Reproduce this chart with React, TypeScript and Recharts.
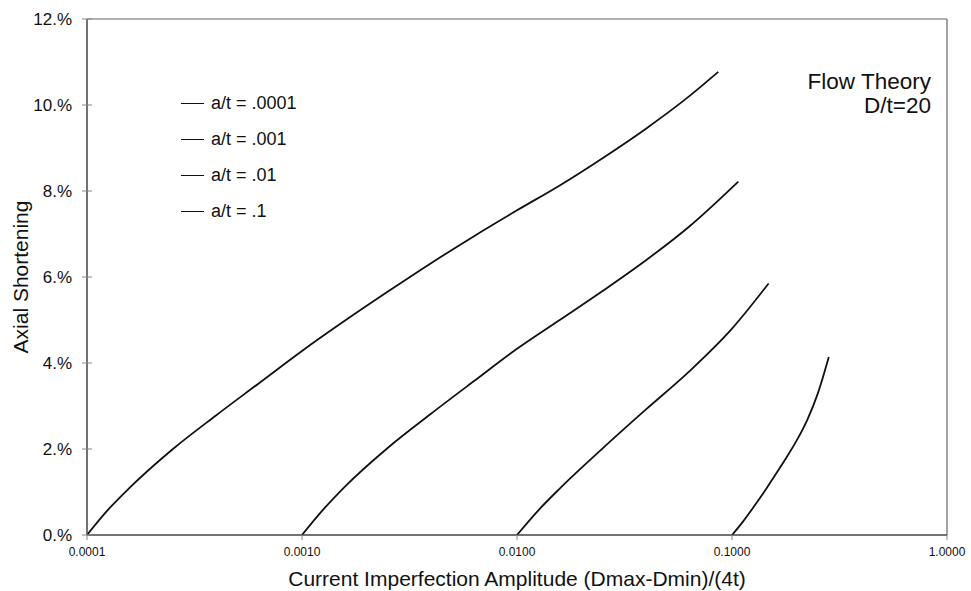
import { LineChart, Line, XAxis, YAxis, Legend, ReferenceLine } from "recharts";

// imperfection amplitude (log scale) vs axial shortening in %
const seriesNames = ["a/t = .0001", "a/t = .001", "a/t = .01", "a/t = .1"];

const amp1 = [0.0001, 0.000126, 0.000158, 0.000251, 0.000398, 0.000631, 0.001, 0.00158, 0.00251, 0.00398, 0.00631, 0.01, 0.0158, 0.0251, 0.0398, 0.0631, 0.0863];
const short1 = [0, 0.6, 1.1, 2.0, 2.78, 3.53, 4.28, 4.98, 5.66, 6.32, 6.95, 7.55, 8.13, 8.77, 9.45, 10.2, 10.77];

const amp2 = [0.001, 0.00126, 0.00158, 0.00251, 0.00398, 0.00631, 0.01, 0.0158, 0.0251, 0.0398, 0.0631, 0.107];
const short2 = [0, 0.6, 1.12, 2.03, 2.82, 3.58, 4.33, 5.0, 5.68, 6.39, 7.17, 8.22];

const amp3 = [0.01, 0.0126, 0.0158, 0.0251, 0.0398, 0.0631, 0.1, 0.148];
const short3 = [0, 0.58, 1.08, 2.02, 2.92, 3.8, 4.8, 5.85];

const amp4 = [0.1, 0.112, 0.126, 0.141, 0.158, 0.178, 0.2, 0.224, 0.251, 0.282];
const short4 = [0, 0.3, 0.65, 1.0, 1.38, 1.78, 2.2, 2.68, 3.3, 4.14];

const xTicks = [0.0001, 0.001, 0.01, 0.1, 1];
const yTicks = [0, 2, 4, 6, 8, 10, 12];

const FONT = '"Liberation Sans", Arial, Helvetica, sans-serif';

const toPoints = (xs: number[], ys: number[]) => xs.map((x, i) => ({ x, y: ys[i] }));

const series = [
  toPoints(amp1, short1),
  toPoints(amp2, short2),
  toPoints(amp3, short3),
  toPoints(amp4, short4),
];

// y ticks cross the axis: short mark on both sides
const YTick = (props: any) => {
  const { x, y, payload } = props;
  return (
    <g>
      <line x1={x + 10} x2={x + 20} y1={y} y2={y} stroke="#888" strokeWidth={1} />
      <text x={x} y={y} dy="0.36em" textAnchor="end" fontSize={17} fill="#111" fontFamily={FONT}>
        {`${payload.value}.%`}
      </text>
    </g>
  );
};

const LegendList = (props: any) => {
  const { payload } = props;
  return (
    <div style={{ fontFamily: FONT, fontSize: 18, color: "#111" }}>
      {(payload || []).map((entry: any) => (
        <div key={entry.value} style={{ height: 36, display: "flex", alignItems: "center" }}>
          <span style={{ display: "inline-block", width: 23, height: 0, borderTop: "1.5px solid #111", marginRight: 7 }} />
          <span>{entry.value}</span>
        </div>
      ))}
    </div>
  );
};

export default function App() {
  return (
    <div style={{ position: "absolute", left: 0, top: 0, width: 971, height: 591, background: "#fff" }}>
      <LineChart width={971} height={591} margin={{ top: 19, right: 24, left: 0, bottom: 0 }}>
        <XAxis
          dataKey="x"
          type="number"
          scale="log"
          domain={[0.0001, 1]}
          ticks={xTicks}
          allowDataOverflow
          height={56}
          tickSize={5}
          tickMargin={7}
          tickLine={{ stroke: "#888" }}
          axisLine={{ stroke: "#444", strokeWidth: 1.5 }}
          tick={{ fontSize: 12, fill: "#111", fontFamily: FONT }}
          tickFormatter={(v: number) => v.toFixed(4)}
          label={{
            value: "Current Imperfection Amplitude (Dmax-Dmin)/(4t)",
            position: "insideBottom",
            offset: 5,
            fontSize: 21,
            fill: "#111",
            fontFamily: FONT,
          }}
        />
        <YAxis
          type="number"
          domain={[0, 12]}
          ticks={yTicks}
          width={87}
          tickSize={0}
          tickMargin={15}
          tickLine={false}
          axisLine={{ stroke: "#444", strokeWidth: 1.5 }}
          tick={<YTick />}
          label={{
            content: ({ viewBox }: any) => (
              <text
                x={20}
                y={viewBox.y + viewBox.height / 2}
                transform={`rotate(-90 20 ${viewBox.y + viewBox.height / 2})`}
                textAnchor="middle"
                dominantBaseline="central"
                fontSize={21}
                fill="#111"
                fontFamily={FONT}
              >
                Axial Shortening
              </text>
            ),
          }}
        />
        <ReferenceLine y={12} stroke="#666" strokeWidth={1.2} />
        <ReferenceLine x={1} stroke="#666" strokeWidth={1.2} />
        <Legend
          layout="horizontal"
          verticalAlign="middle"
          align="center"
          content={<LegendList />}
          wrapperStyle={{ left: 181, top: 85, width: 200 }}
        />
        {series.map((pts, i) => (
          <Line
            key={seriesNames[i]}
            data={pts}
            dataKey="y"
            name={seriesNames[i]}
            type="monotone"
            stroke="#111"
            strokeWidth={1.8}
            dot={false}
            activeDot={false}
            isAnimationActive={false}
          />
        ))}
      </LineChart>
      <div
        style={{
          position: "absolute",
          right: 40,
          top: 70,
          textAlign: "right",
          fontFamily: FONT,
          fontSize: 22.5,
          lineHeight: "24px",
          color: "#111",
        }}
      >
        <div>Flow Theory</div>
        <div>D/t=20</div>
      </div>
    </div>
  );
}
